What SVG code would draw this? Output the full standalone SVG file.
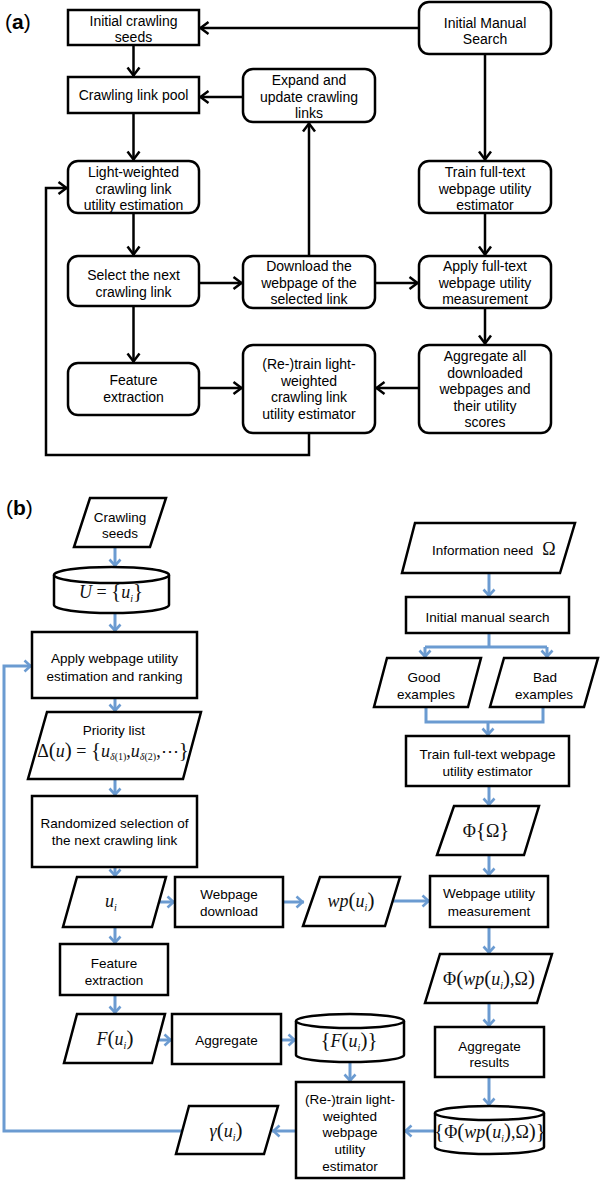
<svg xmlns="http://www.w3.org/2000/svg" width="604" height="1184" viewBox="0 0 604 1184">
<style>
.bx{fill:#fff;stroke:#000;stroke-width:2.5}
.ta{font-family:"Liberation Sans",Arial,sans-serif;font-size:14px;text-anchor:middle;fill:#000}
.tb{font-family:"Liberation Sans",Arial,sans-serif;font-size:13.5px;text-anchor:middle;fill:#000}
.m{font-family:"Liberation Serif","Times New Roman",serif;font-size:18px;text-anchor:middle;fill:#111}
.i{font-style:italic}
.d{font-size:21px}
.ca{fill:none;stroke:#000;stroke-width:2.5;marker-end:url(#ka)}
.cb{fill:none;stroke:#6b9bd1;stroke-width:3;marker-end:url(#kb)}
.cbl{fill:none;stroke:#6b9bd1;stroke-width:3}
.lbl{font-family:"Liberation Sans",Arial,sans-serif;font-size:21px;fill:#000}
</style>
<defs>
<marker id="ka" markerUnits="userSpaceOnUse" markerWidth="16" markerHeight="16" viewBox="-12 -8 16 16" refX="1.5" refY="0" orient="auto"><path d="M-8,-6 L0,0 L-8,6" fill="none" stroke="#000" stroke-width="2.5"/></marker>
<marker id="kb" markerUnits="userSpaceOnUse" markerWidth="16" markerHeight="16" viewBox="-12 -8 16 16" refX="1.5" refY="0" orient="auto"><path d="M-6,-5.5 L0,0 L-6,5.5" fill="none" stroke="#6b9bd1" stroke-width="2.6"/></marker>
</defs>
<rect width="604" height="1184" fill="#fff"/>

<text class="lbl" x="5" y="29">(<tspan font-weight="bold">a</tspan>)</text>
<text class="lbl" x="6" y="515">(<tspan font-weight="bold">b</tspan>)</text>

<g id="connectors-a">
<path class="ca" d="M419,28 H199"/>
<path class="ca" d="M133.5,45 V77"/>
<path class="ca" d="M243,97 H199"/>
<path class="ca" d="M133.5,113 V161"/>
<path class="ca" d="M485,54 V161"/>
<path class="ca" d="M133.5,213 V256"/>
<path class="ca" d="M485,213 V256"/>
<path class="ca" d="M199,283 H243"/>
<path class="ca" d="M375,283 H419"/>
<path class="ca" d="M309,256 V122"/>
<path class="ca" d="M133.5,306 V363"/>
<path class="ca" d="M199,388 H243"/>
<path class="ca" d="M485,308 V345"/>
<path class="ca" d="M419,388 H375"/>
<path class="ca" d="M309,433 V455 H46 V188 H68"/>
</g>

<g id="a-seeds"><rect class="bx" x="68" y="10" width="131" height="35"/><text class="ta" x="133.5" y="25.5">Initial crawling</text><text class="ta" x="133.5" y="42">seeds</text></g>
<g id="a-manual"><rect class="bx" x="419" y="2" width="132" height="52" rx="10"/><text class="ta" x="485" y="27.5">Initial Manual</text><text class="ta" x="485" y="43.5">Search</text></g>
<g id="a-pool"><rect class="bx" x="68" y="77" width="131" height="36"/><text class="ta" x="133.5" y="100">Crawling link pool</text></g>
<g id="a-expand"><rect class="bx" x="243" y="69" width="132" height="53" rx="10"/><text class="ta" x="309" y="85">Expand and</text><text class="ta" x="309" y="101.5">update crawling</text><text class="ta" x="309" y="118">links</text></g>
<g id="a-lw"><rect class="bx" x="68" y="161" width="131" height="52" rx="10"/><text class="ta" x="133.5" y="177">Light-weighted</text><text class="ta" x="133.5" y="193.5">crawling link</text><text class="ta" x="133.5" y="210">utility estimation</text></g>
<g id="a-train"><rect class="bx" x="419" y="161" width="132" height="52" rx="10"/><text class="ta" x="485" y="177">Train full-text</text><text class="ta" x="485" y="193.5">webpage utility</text><text class="ta" x="485" y="210">estimator</text></g>
<g id="a-select"><rect class="bx" x="68" y="256" width="131" height="50" rx="10"/><text class="ta" x="133.5" y="280">Select the next</text><text class="ta" x="133.5" y="297">crawling link</text></g>
<g id="a-download"><rect class="bx" x="243" y="256" width="132" height="52" rx="10"/><text class="ta" x="309" y="271">Download the</text><text class="ta" x="309" y="287.5">webpage of the</text><text class="ta" x="309" y="304">selected link</text></g>
<g id="a-apply"><rect class="bx" x="419" y="256" width="132" height="52" rx="10"/><text class="ta" x="485" y="271">Apply full-text</text><text class="ta" x="485" y="287.5">webpage utility</text><text class="ta" x="485" y="304">measurement</text></g>
<g id="a-feature"><rect class="bx" x="68" y="363" width="131" height="52" rx="10"/><text class="ta" x="133.5" y="385">Feature</text><text class="ta" x="133.5" y="402">extraction</text></g>
<g id="a-retrain"><rect class="bx" x="243" y="345" width="132" height="88" rx="10"/><text class="ta" x="309" y="369">(Re-)train light-</text><text class="ta" x="309" y="386">weighted</text><text class="ta" x="309" y="402">crawling link</text><text class="ta" x="309" y="419">utility estimator</text></g>
<g id="a-aggregate"><rect class="bx" x="419" y="345" width="132" height="88" rx="10"/><text class="ta" x="485" y="361">Aggregate all</text><text class="ta" x="485" y="378">downloaded</text><text class="ta" x="485" y="394">webpages and</text><text class="ta" x="485" y="411">their utility</text><text class="ta" x="485" y="427">scores</text></g>

<g id="connectors-b">
<path class="cb" d="M115,547 V567"/>
<path class="cb" d="M115,613 V632"/>
<path class="cb" d="M115,698 V712"/>
<path class="cb" d="M115,779 V796"/>
<path class="cb" d="M115,867 V877"/>
<path class="cb" d="M158,902 H175"/>
<path class="cb" d="M283,902 H304"/>
<path class="cb" d="M393,901 H430"/>
<path class="cb" d="M115,927 V944"/>
<path class="cb" d="M115,995 V1014"/>
<path class="cb" d="M158,1040 H172"/>
<path class="cb" d="M281,1040 H296"/>
<path class="cb" d="M350,1062 V1082"/>
<path class="cb" d="M296,1131 H272"/>
<path class="cb" d="M182,1131 H4 V666 H32"/>
<path class="cb" d="M489,573 V597"/>
<path class="cbl" d="M489,633 V647 M425,647 H547"/>
<path class="cb" d="M425,647 V658"/>
<path class="cb" d="M547,647 V658"/>
<path class="cbl" d="M426,707 V722 H543 V707"/>
<path class="cb" d="M488,722 V736"/>
<path class="cb" d="M489,786 V806"/>
<path class="cb" d="M489,855 V876"/>
<path class="cb" d="M489,927 V954"/>
<path class="cb" d="M489,1003 V1027"/>
<path class="cb" d="M489,1077 V1106"/>
<path class="cb" d="M435,1131 H404"/>
</g>

<g id="b-seeds"><path class="bx" d="M90,498 H166 L150,547 H74 Z"/><text class="tb" x="120" y="522">Crawling</text><text class="tb" x="120" y="538">seeds</text></g>
<g id="b-U"><path class="bx" d="M54,575 V605 A57.5,8 0 0 0 169,605 V575"/><ellipse class="bx" cx="111.5" cy="575" rx="57.5" ry="8"/><text class="m" x="111" y="598"><tspan class="i">U</tspan> = <tspan class="d">{</tspan><tspan class="i">u</tspan><tspan class="i" font-size="10" dy="4">i</tspan><tspan class="d" dy="-4">}</tspan></text></g>
<g id="b-apply"><rect class="bx" x="32" y="632" width="165" height="66"/><text class="tb" x="114.5" y="663">Apply webpage utility</text><text class="tb" x="114.5" y="681">estimation and ranking</text></g>
<g id="b-priority"><path class="bx" d="M47,712 H201 L183,779 H28 Z"/><text class="tb" x="114" y="735">Priority list</text><text class="m" x="113" y="757" font-size="17">Δ<tspan class="d">(</tspan><tspan class="i">u</tspan><tspan class="d">)</tspan> = <tspan class="d">{</tspan><tspan class="i">u</tspan><tspan class="i" font-size="10" dy="3">δ</tspan><tspan font-size="10">(1)</tspan><tspan dy="-3">,</tspan><tspan class="i">u</tspan><tspan class="i" font-size="10" dy="3">δ</tspan><tspan font-size="10">(2)</tspan><tspan dy="-3">,⋯</tspan><tspan class="d">}</tspan></text></g>
<g id="b-random"><rect class="bx" x="32" y="796" width="165" height="71"/><text class="tb" x="114.5" y="828">Randomized selection of</text><text class="tb" x="114.5" y="845">the next crawling link</text></g>
<g id="b-ui"><path class="bx" d="M77,877 H166 L152,927 H63 Z"/><text class="m" x="111" y="907"><tspan class="i">u</tspan><tspan class="i" font-size="10" dy="4">i</tspan></text></g>
<g id="b-download"><rect class="bx" x="175" y="877" width="108" height="50"/><text class="tb" x="229" y="899">Webpage</text><text class="tb" x="229" y="916">download</text></g>
<g id="b-wp"><path class="bx" d="M320,877 H400 L385,926 H303 Z"/><text class="m" x="351" y="907"><tspan class="i">wp</tspan><tspan class="d">(</tspan><tspan class="i">u</tspan><tspan class="i" font-size="10" dy="4">i</tspan><tspan class="d" dy="-4">)</tspan></text></g>
<g id="b-feature"><rect class="bx" x="60" y="944" width="108" height="51"/><text class="tb" x="114" y="968">Feature</text><text class="tb" x="114" y="985">extraction</text></g>
<g id="b-F"><path class="bx" d="M77,1014 H165 L152,1063 H64 Z"/><text class="m" x="115" y="1045"><tspan class="i">F</tspan><tspan class="d">(</tspan><tspan class="i">u</tspan><tspan class="i" font-size="10" dy="4">i</tspan><tspan class="d" dy="-4">)</tspan></text></g>
<g id="b-aggregate"><rect class="bx" x="172" y="1014" width="109" height="50"/><text class="tb" x="226.5" y="1045">Aggregate</text></g>
<g id="b-Fset"><path class="bx" d="M296,1021 V1055 A54,7 0 0 0 404,1055 V1021"/><ellipse class="bx" cx="350" cy="1021" rx="54" ry="7"/><text class="m" x="349" y="1047"><tspan class="d">{</tspan><tspan class="i">F</tspan><tspan class="d">(</tspan><tspan class="i">u</tspan><tspan class="i" font-size="10" dy="4">i</tspan><tspan class="d" dy="-4">)}</tspan></text></g>
<g id="b-retrain"><rect class="bx" x="296" y="1082" width="108" height="96"/><text class="tb" x="350" y="1104">(Re-)train light-</text><text class="tb" x="350" y="1121">weighted</text><text class="tb" x="350" y="1137">webpage</text><text class="tb" x="350" y="1154">utility</text><text class="tb" x="350" y="1171">estimator</text></g>
<g id="b-gamma"><path class="bx" d="M189,1106 H278 L264,1154 H176 Z"/><text class="m" x="226" y="1137"><tspan class="i">γ</tspan><tspan class="d">(</tspan><tspan class="i">u</tspan><tspan class="i" font-size="10" dy="4">i</tspan><tspan class="d" dy="-4">)</tspan></text></g>
<g id="b-info"><path class="bx" d="M415,523 H575 L560,573 H402 Z"/><text class="tb" x="432" y="555" style="text-anchor:start">Information need</text><text class="m" x="549" y="555">Ω</text></g>
<g id="b-ims"><rect class="bx" x="406" y="597" width="163" height="36"/><text class="tb" x="487.5" y="622">Initial manual search</text></g>
<g id="b-good"><path class="bx" d="M387,658 H481 L468,707 H374 Z"/><text class="tb" x="424" y="682">Good</text><text class="tb" x="426" y="699">examples</text></g>
<g id="b-bad"><path class="bx" d="M504,658 H598 L584,707 H490 Z"/><text class="tb" x="545" y="682">Bad</text><text class="tb" x="544" y="699">examples</text></g>
<g id="b-train"><rect class="bx" x="406" y="736" width="163" height="50"/><text class="tb" x="487.5" y="759">Train full-text webpage</text><text class="tb" x="487.5" y="776">utility estimator</text></g>
<g id="b-phiomega"><path class="bx" d="M454,806 H539 L524,855 H437 Z"/><text class="m" x="486" y="837">Φ<tspan class="d">{</tspan>Ω<tspan class="d">}</tspan></text></g>
<g id="b-measure"><rect class="bx" x="430" y="876" width="118" height="51"/><text class="tb" x="489" y="898">Webpage utility</text><text class="tb" x="489" y="916">measurement</text></g>
<g id="b-phiwp"><path class="bx" d="M440,954 H552 L537,1003 H425 Z"/><text class="m" x="489" y="985">Φ<tspan class="d">(</tspan><tspan class="i">wp</tspan><tspan class="d">(</tspan><tspan class="i">u</tspan><tspan class="i" font-size="10" dy="4">i</tspan><tspan class="d" dy="-4">)</tspan>,Ω<tspan class="d">)</tspan></text></g>
<g id="b-aggres"><rect class="bx" x="435" y="1027" width="109" height="50"/><text class="tb" x="489.5" y="1051">Aggregate</text><text class="tb" x="489.5" y="1067">results</text></g>
<g id="b-phiset"><path class="bx" d="M435,1113 V1147 A54.5,7 0 0 0 544,1147 V1113"/><ellipse class="bx" cx="489.5" cy="1113" rx="54.5" ry="7"/><text class="m" x="490" y="1138" font-size="17"><tspan class="d">{</tspan>Φ<tspan class="d">(</tspan><tspan class="i">wp</tspan><tspan class="d">(</tspan><tspan class="i">u</tspan><tspan class="i" font-size="9.5" dy="4">i</tspan><tspan class="d" dy="-4">)</tspan>,Ω<tspan class="d">)}</tspan></text></g>
</svg>
